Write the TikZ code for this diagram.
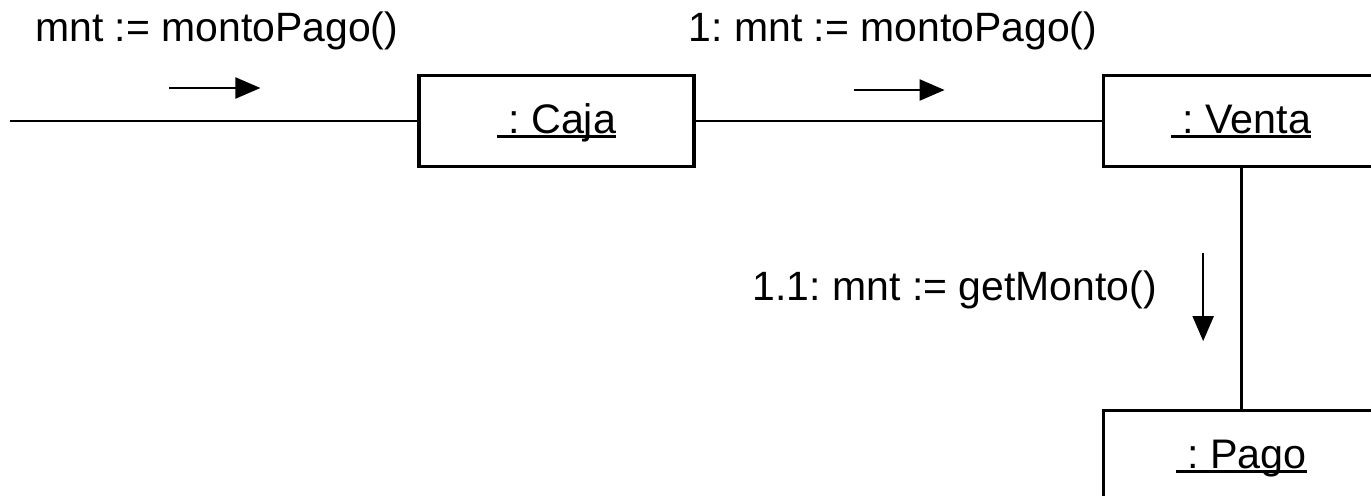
\documentclass[tikz,border=0pt]{standalone}
\usepackage{fontspec}
\setmainfont{Liberation Sans}
\usetikzlibrary{positioning,arrows.meta}

% underline that runs through the descenders
\newcommand{\objul}[1]{\setbox0=\hbox{#1}\rlap{\rule[-0.1cm]{\wd0}{0.055cm}}\box0}

\begin{document}
\frenchspacing
\begin{tikzpicture}[
        object/.style={
                rectangle,
                draw=black,
                line width=1.8pt,
                minimum width=5.5cm,
                minimum height=1.82cm,
                text height=0.62cm,
                text depth=0.14cm,
                font=\fontsize{23.5}{28}\selectfont
            },
        message/.style = {font=\fontsize{23.3}{28}\selectfont},
        link/.style = {line width=1.6pt},
        call/.style = {->, line width=1.3pt},
        >={Triangle[length=0.5cm,width=0.42cm]}
    ]
    \useasboundingbox (0,0) rectangle (27.42,-9.9);

    \node[object] (caja) at (11.13,-2.42) {\objul{\ : Caja}};
    \node[object] (venta) [right=8.13cm of caja] {\objul{\ : Venta}};
    \node[object] (pago) [below=4.82cm of venta] {\objul{\ : Pago}};

    \coordinate[left=8.14cm of caja.west] (client);
    \draw[link] (client) -- (caja);
    \draw[link] (caja) -- (venta);
    \draw[link] (venta) -- (pago);

    % messages
    \coordinate[above left=0.66cm and 3.14cm of caja.west] (m0 end);
    \coordinate[left=1.82cm of m0 end] (m0 start);
    \draw[call] (m0 start) -- (m0 end);
    \node[message, anchor=base west] (m0) at (0.58,-0.84) {mnt := montoPago()};

    \coordinate[above right=0.62cm and 4.98cm of caja.east] (m1 end);
    \coordinate[left=1.82cm of m1 end] (m1 start);
    \draw[call] (m1 start) -- (m1 end);
    \node[message, anchor=base] (m1) at (17.86,-0.84) {1: mnt := montoPago()};

    \coordinate[below left=1.7cm and 0.76cm of venta.south] (m11 start);
    \coordinate[below=1.76cm of m11 start] (m11 end);
    \draw[call] (m11 start) -- (m11 end);
    \node[message, anchor=base east] (m11) at (23.26,-6.0) {1.1: mnt := getMonto()};
\end{tikzpicture}
\end{document}
